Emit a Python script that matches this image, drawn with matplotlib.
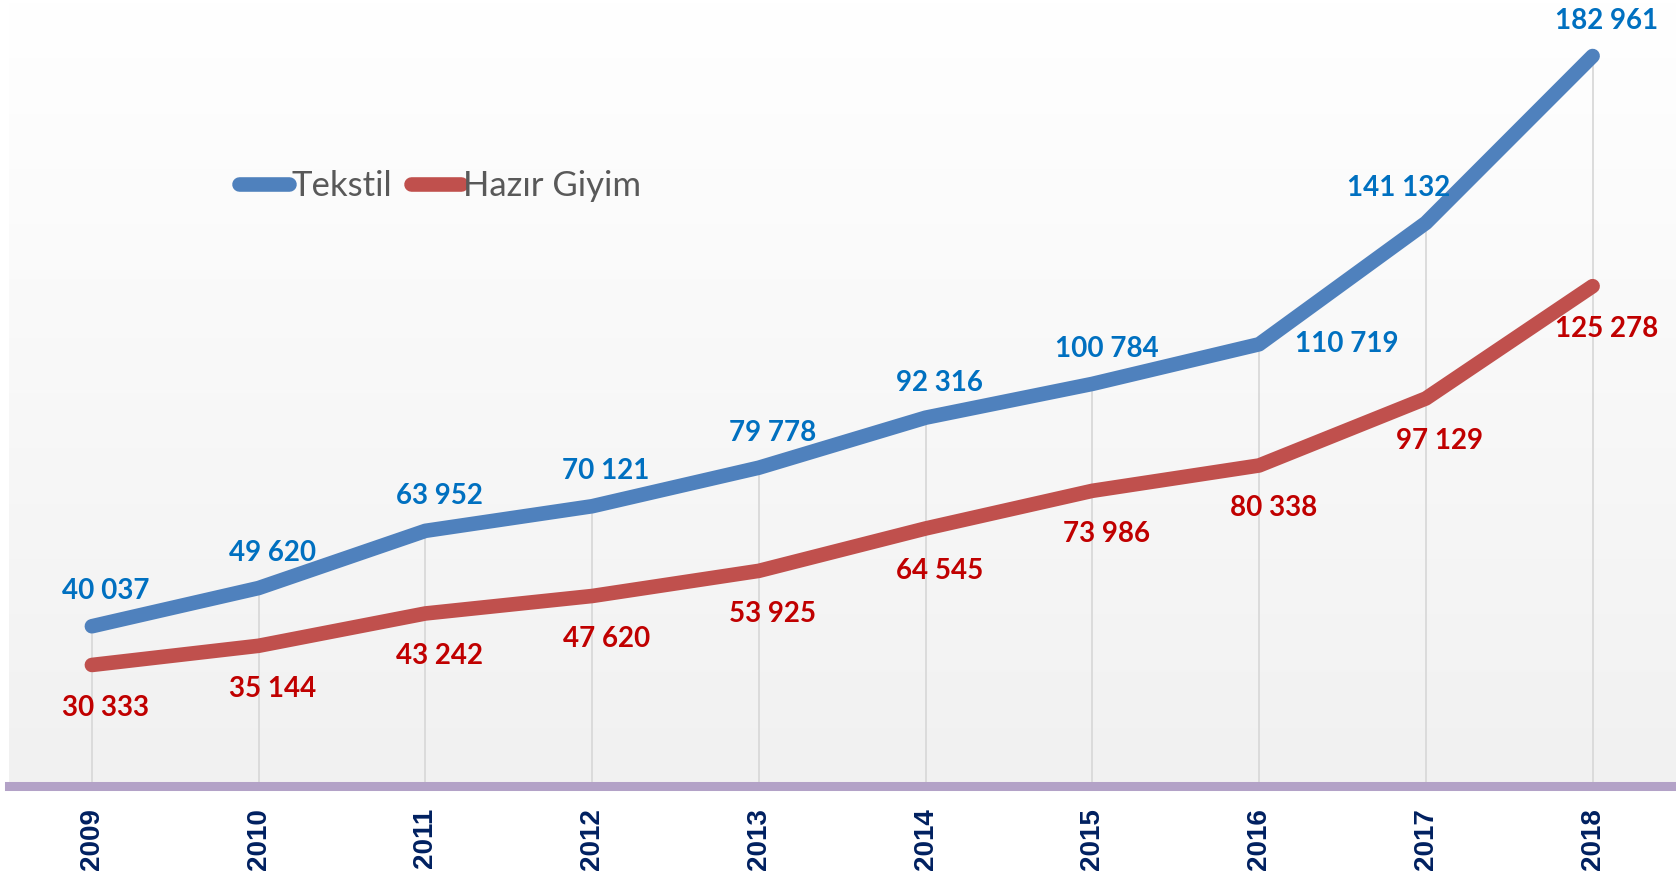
import matplotlib
matplotlib.use('Agg')
import numpy as np
import matplotlib.pyplot as plt

# data
years = ['2009', '2010', '2011', '2012', '2013', '2014', '2015', '2016', '2017', '2018']
tekstil = [40037, 49620, 63952, 70121, 79778, 92316, 100784, 110719, 141132, 182961]
hazir_giyim = [30333, 35144, 43242, 47620, 53925, 64545, 73986, 80338, 97129, 125278]
tekstil_lbl = ['40 037', '49 620', '63 952', '70 121', '79 778', '92 316', '100 784',
               '110 719', '141 132', '182 961']
hazir_lbl = ['30 333', '35 144', '43 242', '47 620', '53 925', '64 545', '73 986',
             '80 338', '97 129', '125 278']

blue = '#4f81bd'
red = '#c0504d'

fig = plt.figure(figsize=(16.76, 8.77), dpi=100)
ax = fig.add_axes([8.5 / 1676, 91 / 877, 1 - 8.5 / 1676, 1 - 91 / 877])
x = np.arange(len(years))
ax.set_xlim(-0.5, len(years) - 0.5)
ax.set_ylim(0, 197000)

# background gradient white -> light gray
grad = np.linspace(1.0, 0.945, 256).reshape(-1, 1)
ax.imshow(np.dstack([grad, grad, grad]), aspect='auto', extent=(-0.5, 9.5, 0, 197000),
          origin='upper', zorder=0)

# drop lines
ax.vlines(x, 0, tekstil, color='#d9d9d9', lw=1.3, zorder=1)

ax.plot(x, tekstil, color=blue, lw=10.5, solid_capstyle='round', solid_joinstyle='round',
        label='Tekstil', zorder=3)
ax.plot(x, hazir_giyim, color=red, lw=10.5, solid_capstyle='round', solid_joinstyle='round',
        label='Hazır Giyim', zorder=3)

# purple axis band
ax.axhline(0, color='#b3a2c7', lw=6.5, zorder=4, clip_on=False)

# value labels
t_off = [(14, 35)] * 7 + [(88, 0), (-27, 35), (14, 35)]
for i in range(len(years)):
    ax.annotate(tekstil_lbl[i], (x[i], tekstil[i]), xytext=t_off[i], textcoords='offset pixels',
                ha='center', va='center', fontsize=20, fontweight='bold', family='Lato',
                color='#0070c0', annotation_clip=False, zorder=5)
    ax.annotate(hazir_lbl[i], (x[i], hazir_giyim[i]), xytext=(14, -43), textcoords='offset pixels',
                ha='center', va='center', fontsize=20, fontweight='bold', family='Lato',
                color='#c00000', annotation_clip=False, zorder=5)

ax.set_xticks(x)
ax.set_xticklabels(years, rotation=90, fontsize=20, fontweight='bold',
                   family='Liberation Sans', color='#002060')
ax.tick_params(axis='x', length=0, pad=16)
ax.set_yticks([])
for s in ax.spines.values():
    s.set_visible(False)

leg = ax.legend(loc='center', bbox_to_anchor=(440 / 1676, 1 - 186 / 877),
                bbox_transform=fig.transFigure, ncol=2, frameon=False,
                prop={'family': 'Lato', 'size': 25}, handlelength=1.45,
                handletextpad=0.05, columnspacing=0.55, borderpad=0)
for t in leg.get_texts():
    t.set_color('#595959')

plt.savefig('out.png', dpi=100)
